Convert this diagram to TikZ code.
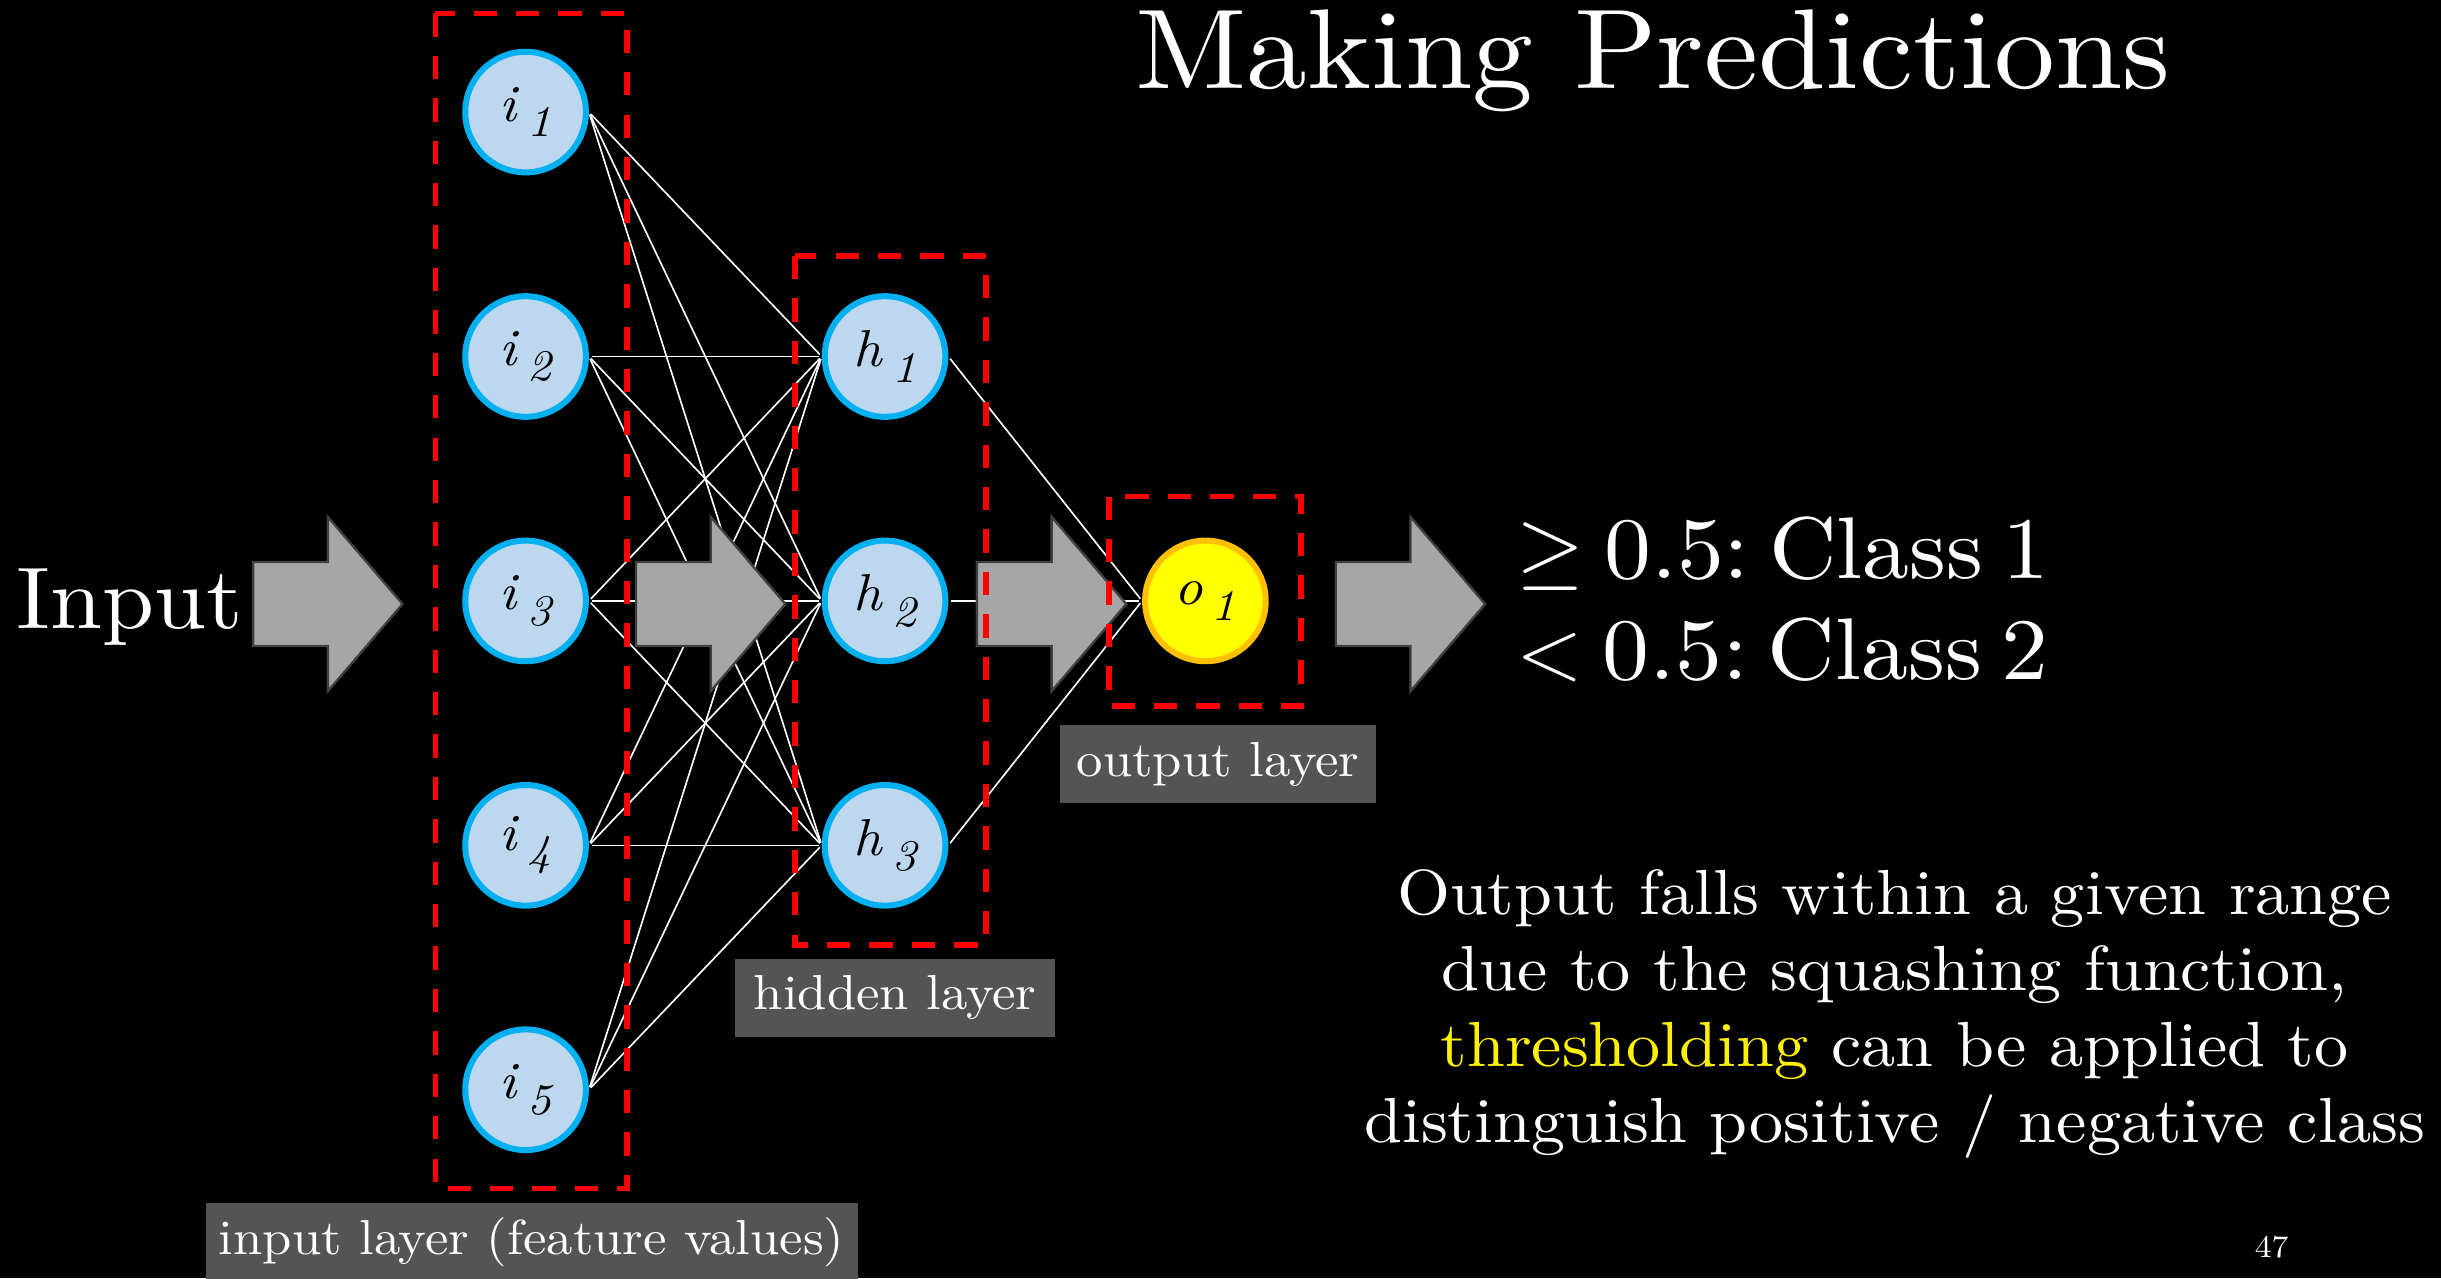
\RequirePackage{fix-cm}
\documentclass[tikz,border=0pt]{standalone}
\usepackage{fontspec}
\setmainfont{lmroman10-regular.otf}[ItalicFont=lmroman10-italic.otf, FakeStretch=1.07]

\definecolor{nodefill}{HTML}{BDD7EE}
\definecolor{nodeborder}{HTML}{00B0F0}
\definecolor{outfill}{HTML}{FFFF00}
\definecolor{outborder}{HTML}{FFC000}
\definecolor{arrowfill}{HTML}{A6A6A6}
\definecolor{arrowborder}{HTML}{404040}
\definecolor{labelfill}{HTML}{545454}

% neuron name with a big, lowered italic index
\newcommand{\neu}[2]{\textit{#1}\,\raisebox{-0.3em}{\fontsize{16}{16}\selectfont\itshape #2}}
% tighter spacing for the class lines
\newcommand{\tightwords}{\frenchspacing\spaceskip 0.22em\relax}

\tikzset{
    neuron/.style={circle, draw=nodeborder, fill=nodefill, line width=2.2pt,
        minimum size=1.55cm, inner sep=0pt, font=\fontsize{19}{22}\selectfont},
    outneuron/.style={neuron, draw=outborder, fill=outfill},
    link/.style={white, line width=0.6pt, shorten <=1pt, shorten >=1pt},
    bigarrow/.style={fill=arrowfill, draw=arrowborder, line width=0.85pt},
    layerbox/.style={draw=red, line width=2pt, dash pattern=on 0.3cm off 0.245cm},
    layerlabel/.style={fill=labelfill, text=white, inner sep=0pt,
        minimum height=1cm, font=\fontsize{18}{22}\selectfont},
    slidetext/.style={text=white, inner sep=0pt},
    classtext/.style={slidetext, anchor=base west,
        font=\fontsize{32}{36}\selectfont\tightwords}
}

\begin{document}
\begin{tikzpicture}[x=0.02cm, y=-0.02cm]
    \fill[black] (0,0) rectangle (1568,821);
    \useasboundingbox (0,0) rectangle (1568,821);

    % Input layer
    \foreach \n/\y in {1/72, 2/229, 3/386, 4/543, 5/700} {
        \node[neuron] (i\n) at (337.6,\y) {\neu{i}{\n}};
    }

    % Hidden layer
    \foreach \n/\y in {1/229, 2/386, 3/543} {
        \node[neuron] (h\n) at (568.5,\y) {\neu{h}{\n}};
    }

    % Output layer
    \node[outneuron] (o1) at (774.3,386) {\neu{o}{1}};

    % Fully connected weights
    \foreach \i in {1,...,5} {
        \foreach \h in {1,2,3} {
            \draw[link] (i\i.east) -- (h\h.west);
        }
    }
    \foreach \h in {1,2,3} {
        \draw[link] (h\h.east) -- (o1.west);
    }

    % Big grey block arrows (on top of the weights)
    \foreach \x in {162.6, 408.5, 627.5, 858} {
        \draw[bigarrow] (\x,361) -- (\x+48,361) -- (\x+48,332) -- (\x+96,388)
            -- (\x+48,444) -- (\x+48,415) -- (\x,415) -- cycle;
    }

    % Dashed layer frames
    \draw[layerbox] (279.6,8.6) rectangle (402.7,763.5);
    \draw[layerbox] (510.7,164.4) rectangle (633.5,607);
    \draw[layerbox] (712.3,319) rectangle (835.8,453.5);

    % Layer captions
    \node[layerlabel, minimum width=8.38cm] (inlabel) at (341.5,798) {input layer (feature values)};
    \node[layerlabel, minimum width=4.12cm] (hidlabel) at (575,641) {hidden layer};
    \node[layerlabel, minimum width=4.06cm] (outlabel) at (782.5,491) {output layer};

    % Slide texts
    \node[slidetext, anchor=base west, font=\fontsize{41.5}{46}\selectfont] (title) at (729,57) {Making Predictions};
    \node[slidetext, anchor=base west, font=\fontsize{32}{36}\selectfont] (input) at (10.3,404) {Input};
    \node[classtext] (class1) at (974,371.5) {$\geq$ 0.5: Class 1};
    \node[classtext] (class2) at (974,436.8) {$<$ 0.5: Class 2};
    \node[slidetext, anchor=north, align=center, font=\fontsize{23.3}{27.8}\selectfont] (note) at (1217,558)
        {Output falls within a given range\\
         due to the squashing function,\\
         \textcolor{yellow}{thresholding} can be applied to\\
         distinguish positive / negative class};
    \node[slidetext, anchor=base west, font=\fontsize{11.5}{13}\selectfont] (pagenum) at (1448,808) {47};
\end{tikzpicture}
\end{document}
